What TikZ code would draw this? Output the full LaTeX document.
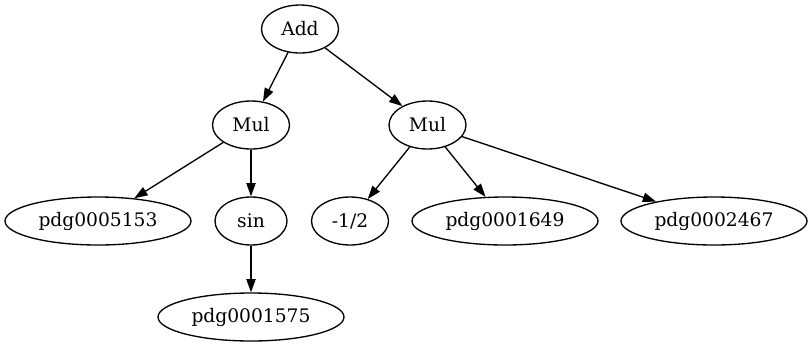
\documentclass[tikz,border=0pt]{standalone}
\usepackage{fontspec}
\setmainfont{DejaVu Serif}
\usetikzlibrary{arrows.meta,shapes.geometric}
\tikzset{
  op/.style={ellipse,draw=black,line width=1pt,inner sep=0pt,minimum width=57.75pt,
             minimum height=36pt,text=black,font=\fontsize{14}{16}\selectfont},
  leaf/.style={op,minimum width=139.5pt},
  edge/.style={-{Triangle[length=10pt,width=7pt]},line width=1pt,draw=black},
}

\begin{document}
\begin{tikzpicture}[x=0.75pt,y=-0.75pt]
  \useasboundingbox (0,0) rectangle (812,347);

  \node[op] (add) at (300,29) {Add};

  % ---------------------------------------------------------------- rank 2
  \node[op] (mulA) at (251,125) {Mul};
  \node[op] (mulB) at (427.5,125) {Mul};

  % ---------------------------------------------------------------- rank 3
  \node[leaf] (p5153) at (98,221) {pdg0005153};
  \node[op,minimum width=54pt] (sin) at (251,221) {sin};
  \node[op] (half) at (350,221) {-1/2};
  \node[leaf] (p1649) at (505,221) {pdg0001649};
  \node[leaf] (p2467) at (714,221) {pdg0002467};

  % ---------------------------------------------------------------- rank 4
  \node[leaf] (p1575) at (251,317) {pdg0001575};

  \draw[edge] (add) -- (mulA);
  \draw[edge] (add) -- (mulB);
  \draw[edge] (mulA) -- (p5153);
  \draw[edge] (mulA) -- (sin);
  \draw[edge] (sin) -- (p1575);
  \draw[edge] (mulB) -- (half);
  \draw[edge] (mulB) -- (p1649);
  \draw[edge] (mulB) -- (p2467);
\end{tikzpicture}
\end{document}
